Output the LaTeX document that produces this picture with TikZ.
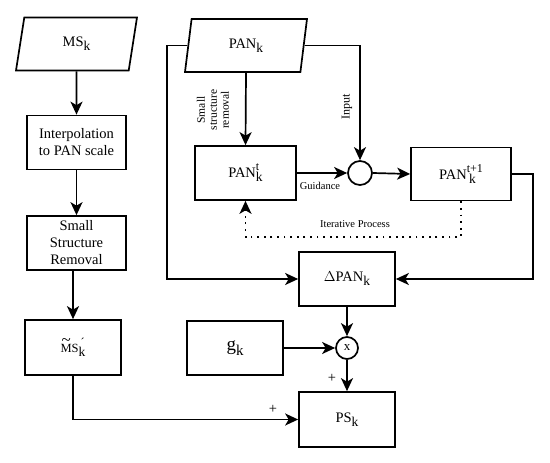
\documentclass[tikz,border=0pt]{standalone}
\usepackage{fontspec}
\setmainfont{Liberation Serif}
\usetikzlibrary{arrows.meta,shapes.geometric}
\newcommand{\lowk}[1]{\raisebox{-0.6ex}{\fontsize{13.5}{13.5}\selectfont #1}}
\newcommand{\tk}[2]{\ooalign{\raisebox{1.05ex}{\fontsize{12}{12}\selectfont #1}\cr\raisebox{-0.6ex}{\fontsize{13.5}{13.5}\selectfont #2}\cr}}
\newcommand{\tildeM}{\ooalign{\hfil\raisebox{1.25ex}{\fontsize{17}{17}\selectfont\textasciitilde}\hfil\cr M\cr}}
\tikzset{x=1pt,y=-1pt,
    every node/.style={font=\fontsize{14.5}{17}\selectfont},
    block/.style={draw,line width=1.7pt,rectangle,align=center,
        minimum width=#1,minimum height=54pt,inner sep=1pt},
    block/.default=99pt,
    datain/.style={draw,line width=1.7pt,trapezium,trapezium stretches body,
        minimum height=53pt,inner sep=1pt},
    junction/.style={draw,line width=1.7pt,circle,inner sep=0pt,minimum size=#1},
    junction/.default=24pt,
    flow/.style={line width=1.7pt,-{Stealth[length=13pt,width=12pt,inset=3.5pt]}},
    iterline/.style={line width=1.6pt,dash pattern=on 1.8pt off 4.8pt},
    tag/.style={font=\fontsize{10.5}{11}\selectfont,inner sep=0pt},
    }
\begin{document}
\begin{tikzpicture}
	\useasboundingbox (0,0) rectangle (550,463);
	% left column
	\node[datain,minimum width=121pt,trapezium left angle=62,trapezium right angle=118] (ms) at (76.5,44) {MS\lowk{k}};
	\node[block] (interp) at (76.5,142.5) {Interpolation\\to PAN scale};
	\node[block] (ssr) at (76.5,243) {Small\\Structure\\Removal};
	\node[block=96pt,minimum height=55pt,font=\fontsize{12.5}{14}\selectfont] (msd) at (73,347.5) {\tildeM S\tk{\,´}{k}};
	% right part
	\node[datain,minimum width=122pt,trapezium left angle=67,trapezium right angle=113] (pan) at (246,45.5) {PAN\lowk{k}};
	\node[block=101pt] (pant) at (245.5,173) {PAN\tk{t}{k}};
	\node[junction] (sum) at (360,173) {};
	\node[block=100pt,minimum height=53pt] (pantn) at (461,174) {PAN\tk{t+1}{\,k}};
	\node[block=96pt] (dpan) at (347,279) {$\Delta$PAN\lowk{k}};
	\node[block=96pt] (gk) at (235,348) {\fontsize{19}{20}\selectfont g\lowk{\fontsize{15}{15}\selectfont k}};
	\node[junction=22pt,font=\fontsize{13}{13}\selectfont] (mul) at (347,348) {x};
	\node[block=96pt,minimum height=55pt] (ps) at (347,419.5) {PS\lowk{k}};
	\coordinate (lloop) at (167,0);
	\coordinate (rloop) at (533,0);
	\coordinate (iter) at (0,237);
	% labels
	\node[tag,rotate=90,font=\fontsize{11.5}{12}\selectfont,align=center] (ssrlab) at (213,110) {Small\\structure\\removal};
	\node[tag,rotate=90,font=\fontsize{12}{12}\selectfont] (inlab) at (347,107) {Input};
	\node[tag] (guide) at (320,186) {Guidance};
	\node[tag] (iterlab) at (355,224) {Iterative Process};
	\node[inner sep=0pt] (plusa) at (332,378) {+};
	\node[inner sep=0pt] (plusb) at (273,409) {+};
	% connectors
	\draw[flow] (ms.south) -- (interp.north);
	\draw[flow] (interp.south) -- (ssr.north);
	\draw[flow] (msd.north |- ssr.south) -- (msd.north);
	\draw[flow] (pan.south) -- (pant.north);
	\draw[flow] (pan.east) -| (sum.north);
	\draw[flow] (pant.east) -- (sum.west);
	\draw[flow] (sum.east) -- (pantn.west);
	\draw[flow,iterline] (pantn.south) -- (pantn.south |- iter) -| (pant.south);
	\draw[flow] (pan.west) -- (pan.west -| lloop) |- (dpan.west);
	\draw[flow] (pantn.east) -- (pantn.east -| rloop) |- (dpan.east);
	\draw[flow] (dpan.south) -- (mul.north);
	\draw[flow] (gk.east) -- (mul.west);
	\draw[flow] (mul.south) -- (ps.north);
	\draw[flow] (msd.south) |- (ps.west);
\end{tikzpicture}
\end{document}
